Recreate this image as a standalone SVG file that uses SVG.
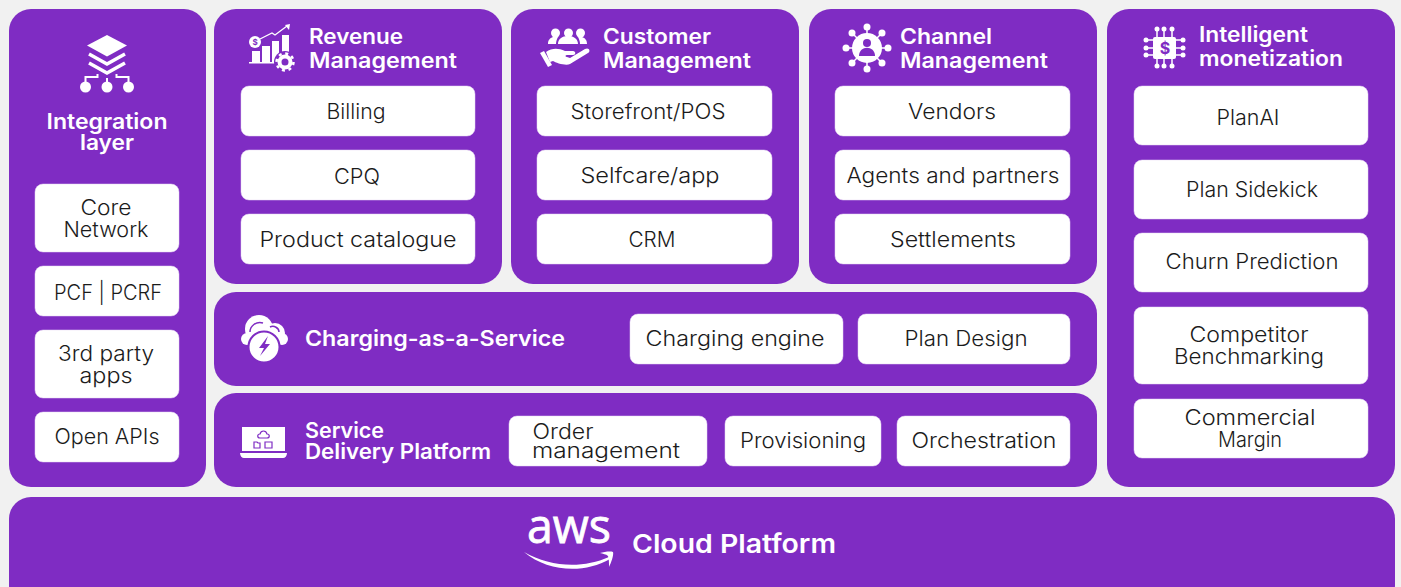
<svg xmlns="http://www.w3.org/2000/svg" width="1401" height="587" viewBox="0 0 1401 587">
<style>
.p{fill:#7f2cc3}
.b{fill:#fff;stroke:#e4d4f2;stroke-width:.5}
text{font-family:"Inter","Liberation Sans",sans-serif}
.t{fill:#1b1b1b;font-size:21px;font-weight:300;text-anchor:middle}
.h{fill:#fff;font-size:21px;font-weight:600}
.i{fill:#fff}
.l{fill:none;stroke:#fff;stroke-width:2}
.v{fill:#7f2cc3}
.vl{fill:none;stroke:#7f2cc3;stroke-width:1.5}
</style>
<rect width="1401" height="587" fill="#f1f1f1"/>

<g id="integration-layer">
<rect class="p" x="9" y="9" width="197" height="478" rx="22"/>
<g id="integration-icon">
<path class="i" d="M107 35l20 10.500-20 11-20-11z"/>
<path class="l" d="M89 54l18 10 18-10M89 63l18 10 18-10" style="stroke-width:3.500"/>
<path class="l" d="M85.500 84v-7h12v-3M128.500 84v-7h-12v-3M107 84v-6"/>
<circle class="i" cx="85.500" cy="87" r="5.500"/><circle class="i" cx="107" cy="87" r="5.500"/><circle class="i" cx="128.500" cy="87" r="5.500"/>
</g>
<text class="h" x="107" y="129" text-anchor="middle" textLength="121" lengthAdjust="spacingAndGlyphs">Integration</text>
<text class="h" x="107" y="150" text-anchor="middle" textLength="54" lengthAdjust="spacingAndGlyphs">layer</text>
<rect class="b" x="35" y="184" width="144" height="68" rx="8"/>
<text class="t" x="106" y="215" textLength="51" lengthAdjust="spacingAndGlyphs">Core</text>
<text class="t" x="106" y="237" textLength="85" lengthAdjust="spacingAndGlyphs">Network</text>
<rect class="b" x="35" y="266" width="144" height="50" rx="8"/>
<text class="t" x="108" y="300" textLength="108" lengthAdjust="spacingAndGlyphs">PCF | PCRF</text>
<rect class="b" x="35" y="330" width="144" height="68" rx="8"/>
<text class="t" x="106" y="361" textLength="96" lengthAdjust="spacingAndGlyphs">3rd party</text>
<text class="t" x="106" y="383" textLength="53" lengthAdjust="spacingAndGlyphs">apps</text>
<rect class="b" x="35" y="412" width="144" height="50" rx="8"/>
<text class="t" x="107" y="444" textLength="105" lengthAdjust="spacingAndGlyphs">Open APIs</text>
</g>

<g id="revenue-management">
<rect class="p" x="214" y="9" width="288" height="275" rx="22"/>
<g id="revenue-icon">
<rect class="i" x="252" y="51" width="8" height="11"/><rect class="i" x="262" y="46" width="8" height="16"/><rect class="i" x="272" y="41" width="7" height="21"/><rect class="i" x="282" y="35" width="7" height="18"/><rect class="i" x="249" y="62" width="28" height="1.500"/>
<circle class="i" cx="255" cy="42" r="6"/><text x="255" y="45" font-size="8" font-weight="700" text-anchor="middle" class="v">$</text>
<path class="l" style="stroke-width:1.300" d="M260 39l12-6 3 2 12-9"/><path class="i" d="M290 24l-1 6-4-5z"/>
<circle cx="285" cy="62" r="11" class="v"/>
<circle cx="285" cy="62" r="5.500" fill="none" stroke="#fff" stroke-width="4"/><circle cx="285" cy="62" r="8.500" fill="none" stroke="#fff" stroke-width="2.500" stroke-dasharray="3 3.670"/>
</g>
<text class="h" x="309" y="44" textLength="94" lengthAdjust="spacingAndGlyphs">Revenue</text>
<text class="h" x="309" y="68" textLength="148" lengthAdjust="spacingAndGlyphs">Management</text>
<rect class="b" x="241" y="86" width="234" height="50" rx="8"/>
<text class="t" x="356" y="119" textLength="59" lengthAdjust="spacingAndGlyphs">Billing</text>
<rect class="b" x="241" y="150" width="234" height="50" rx="8"/>
<text class="t" x="357" y="184" textLength="46" lengthAdjust="spacingAndGlyphs">CPQ</text>
<rect class="b" x="241" y="214" width="234" height="50" rx="8"/>
<text class="t" x="358" y="247" textLength="197" lengthAdjust="spacingAndGlyphs">Product catalogue</text>
</g>

<g id="customer-management">
<rect class="p" x="511" y="9" width="288" height="275" rx="22"/>
<g id="customer-icon">
<circle class="i" cx="555.500" cy="33" r="4.500"/><circle class="i" cx="568.500" cy="33" r="4.500"/><circle class="i" cx="580.500" cy="33" r="4.500"/>
<path class="i" d="M548 44c0-4 2-6 5-7h5c-1 2-2 4-2 7zM558 44c0-5 4-8 10-8s10 3 10 8zM580 44c0-3-1-5-2-7h4c3 1 5 3 5 7z"/>
<path class="i" d="M546 52c6-4 12-4 19-1h8c3 0 3 4 0 4h-6c-2 0-2 2 0 2l3 1 15-9c4-2 6 2 3 4l-18 11c-4 2-14-1-17-3l-3 1z"/>
<path class="i" d="M540 53l4-2 8 14-4 2z"/>
</g>
<text class="h" x="603" y="44" textLength="108" lengthAdjust="spacingAndGlyphs">Customer</text>
<text class="h" x="603" y="68" textLength="148" lengthAdjust="spacingAndGlyphs">Management</text>
<rect class="b" x="537" y="86" width="235" height="50" rx="8"/>
<text class="t" x="648" y="119" textLength="155" lengthAdjust="spacingAndGlyphs">Storefront/POS</text>
<rect class="b" x="537" y="150" width="235" height="50" rx="8"/>
<text class="t" x="650" y="183" textLength="139" lengthAdjust="spacingAndGlyphs">Selfcare/app</text>
<rect class="b" x="537" y="214" width="235" height="50" rx="8"/>
<text class="t" x="652" y="247" textLength="47" lengthAdjust="spacingAndGlyphs">CRM</text>
</g>

<g id="channel-management">
<rect class="p" x="809" y="9" width="288" height="275" rx="22"/>
<g id="channel-icon">
<path class="l" style="stroke-width:1.500" d="M867 27v42M846 48h42M852 33l30 30M882 33l-30 30"/>
<circle cx="867" cy="48" r="15" class="i"/>
<circle class="v" cx="867" cy="43" r="4"/><path class="v" d="M859 56c0-11 16-11 16 0z"/>
<circle class="i" cx="867" cy="27" r="3.500"/><circle class="i" cx="867" cy="69" r="3.500"/><circle class="i" cx="846" cy="48" r="3.500"/><circle class="i" cx="888" cy="48" r="3.500"/><circle class="i" cx="852" cy="33" r="3.500"/><circle class="i" cx="882" cy="33" r="3.500"/><circle class="i" cx="852" cy="63" r="3.500"/><circle class="i" cx="882" cy="63" r="3.500"/>
</g>
<text class="h" x="900" y="44" textLength="92" lengthAdjust="spacingAndGlyphs">Channel</text>
<text class="h" x="900" y="68" textLength="148" lengthAdjust="spacingAndGlyphs">Management</text>
<rect class="b" x="835" y="86" width="235" height="50" rx="8"/>
<text class="t" x="952" y="119" textLength="88" lengthAdjust="spacingAndGlyphs">Vendors</text>
<rect class="b" x="835" y="150" width="235" height="50" rx="8"/>
<text class="t" x="953" y="183" textLength="213" lengthAdjust="spacingAndGlyphs">Agents and partners</text>
<rect class="b" x="835" y="214" width="235" height="50" rx="8"/>
<text class="t" x="953" y="247" textLength="126" lengthAdjust="spacingAndGlyphs">Settlements</text>
</g>

<g id="intelligent-monetization">
<rect class="p" x="1107" y="9" width="288" height="478" rx="22"/>
<g id="intelligent-icon">
<path class="l" style="stroke-width:1.500" d="M1157 29v37M1164 29v37M1172 29v37M1146 40h37M1146 48h37M1146 55h37"/>
<rect class="i" x="1153" y="37" width="23" height="22" rx="2"/>
<g class="i"><circle cx="1157" cy="29" r="2.500"/><circle cx="1164" cy="29" r="2.500"/><circle cx="1172" cy="29" r="2.500"/><circle cx="1157" cy="66" r="2.500"/><circle cx="1164" cy="66" r="2.500"/><circle cx="1172" cy="66" r="2.500"/><circle cx="1146" cy="40" r="2.500"/><circle cx="1146" cy="48" r="2.500"/><circle cx="1146" cy="55" r="2.500"/><circle cx="1183" cy="40" r="2.500"/><circle cx="1183" cy="48" r="2.500"/><circle cx="1183" cy="55" r="2.500"/></g>
<text x="1165" y="54" font-size="16" font-weight="700" text-anchor="middle" class="v">$</text>
</g>
<text class="h" x="1199" y="42" textLength="109" lengthAdjust="spacingAndGlyphs">Intelligent</text>
<text class="h" x="1199" y="66" textLength="144" lengthAdjust="spacingAndGlyphs">monetization</text>
<rect class="b" x="1134" y="86" width="234" height="59" rx="8"/>
<text class="t" x="1248" y="125" textLength="63" lengthAdjust="spacingAndGlyphs">PlanAI</text>
<rect class="b" x="1134" y="160" width="234" height="59" rx="8"/>
<text class="t" x="1252" y="197" textLength="132" lengthAdjust="spacingAndGlyphs">Plan Sidekick</text>
<rect class="b" x="1134" y="233" width="234" height="59" rx="8"/>
<text class="t" x="1252" y="269" textLength="173" lengthAdjust="spacingAndGlyphs">Churn Prediction</text>
<rect class="b" x="1134" y="307" width="234" height="77" rx="8"/>
<text class="t" x="1249" y="342" textLength="119" lengthAdjust="spacingAndGlyphs">Competitor</text>
<text class="t" x="1249" y="364" textLength="150" lengthAdjust="spacingAndGlyphs">Benchmarking</text>
<rect class="b" x="1134" y="399" width="234" height="59" rx="8"/>
<text class="t" x="1250" y="425" textLength="131" lengthAdjust="spacingAndGlyphs">Commercial</text>
<text class="t" x="1250" y="447" textLength="64" lengthAdjust="spacingAndGlyphs">Margin</text>
</g>

<g id="charging-as-a-service">
<rect class="p" x="214" y="292" width="883" height="94" rx="22"/>
<g id="charging-icon">
<g class="i"><circle cx="247" cy="339" r="6"/><circle cx="259" cy="329" r="14"/><circle cx="275" cy="333" r="10"/><circle cx="282" cy="339" r="6"/></g>
<path class="vl" d="M250 332c0-6 6-11 13-9M270 327c4-2 9 1 9 5"/>
<circle cx="264" cy="347" r="15.500" class="i" stroke="#7f2cc3" stroke-width="2"/>
<path class="v" d="M268 336l-9 12h5l-4 8 10-12h-5z"/>
</g>
<text class="h" x="305" y="346" textLength="260" lengthAdjust="spacingAndGlyphs">Charging-as-a-Service</text>
<rect class="b" x="630" y="314" width="213" height="50" rx="8"/>
<text class="t" x="735" y="346" textLength="179" lengthAdjust="spacingAndGlyphs">Charging engine</text>
<rect class="b" x="858" y="314" width="212" height="50" rx="8"/>
<text class="t" x="966" y="346" textLength="123" lengthAdjust="spacingAndGlyphs">Plan Design</text>
</g>

<g id="service-delivery-platform">
<rect class="p" x="214" y="393" width="883" height="94" rx="22"/>
<g id="service-icon">
<path class="i" d="M242 427h43v24h-43zM240 453h47c0 3-2 5-4 5h-39c-2 0-4-2-4-5z"/>
<path class="vl" style="stroke-width:1.200" d="M260 438c-3 0-3-4 0-4 1-4 6-4 7 0 3 0 3 4 0 4zM254 442h3l1 1h2v5h-6zM265 442h7v6h-7z"/>
</g>
<text class="h" x="305" y="438" textLength="79" lengthAdjust="spacingAndGlyphs">Service</text>
<text class="h" x="305" y="459" textLength="186" lengthAdjust="spacingAndGlyphs">Delivery Platform</text>
<rect class="b" x="509" y="416" width="198" height="50" rx="8"/>
<text class="t" x="563" y="439" textLength="61" lengthAdjust="spacingAndGlyphs">Order</text>
<text class="t" x="606" y="458" textLength="148" lengthAdjust="spacingAndGlyphs">management</text>
<rect class="b" x="725" y="416" width="156" height="50" rx="8"/>
<text class="t" x="803" y="448" textLength="126" lengthAdjust="spacingAndGlyphs">Provisioning</text>
<rect class="b" x="897" y="416" width="173" height="50" rx="8"/>
<text class="t" x="984" y="448" textLength="145" lengthAdjust="spacingAndGlyphs">Orchestration</text>
</g>

<g id="cloud-platform">
<rect class="p" x="9" y="497" width="1386" height="110" rx="22"/>
<g id="aws-logo">
<text x="569" y="543" font-size="47" fill="#fff" stroke="#fff" stroke-width=".8" text-anchor="middle" textLength="84" lengthAdjust="spacingAndGlyphs" style="font-family:'Open Sans',sans-serif">aws</text>
<path class="i" d="M524 552c26 15 58 17 85 5l1 2c-26 15-62 13-86-7z"/>
<path class="i" d="M600 553c4-1 10-2 13-1 1 3-2 11-4 15 0-4 0-8-1-11-2-2-5-2-8-3z"/>
</g>
<text class="h" x="632" y="553" style="font-size:26px" textLength="204" lengthAdjust="spacingAndGlyphs">Cloud Platform</text>
</g>
<g id="connectors"/>
</svg>
